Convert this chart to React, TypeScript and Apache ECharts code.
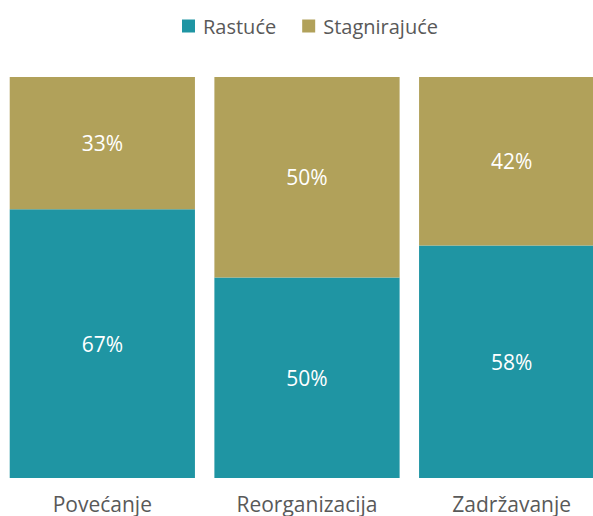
import React, { useEffect, useRef } from "react";
import * as echarts from "echarts";

const categories = ["Povećanje", "Reorganizacija", "Zadržavanje"];
const rastuce = [67, 50, 58];
const stagnirajuce = [33, 50, 42];
const seriesNames = ["Rastuće", "Stagnirajuće"];

export default function App() {
  const ref = useRef<HTMLDivElement>(null);
  useEffect(() => {
    document.body.style.margin = "0";
    const chart = echarts.init(ref.current!, null, { renderer: "svg" });
    const font = "'Open Sans', 'Noto Sans', sans-serif";
    chart.setOption({
      animation: false,
      textStyle: { fontFamily: font },
      legend: {
        top: 16,
        left: 182,
        padding: 0,
        itemWidth: 13,
        itemHeight: 13,
        itemGap: 26,
        icon: "rect",
        textStyle: { fontSize: 20, color: "#595959", fontFamily: font, padding: [0, 0, 0, 3] },
        data: seriesNames,
      },
      grid: { left: 0, right: 0, top: 77, bottom: 38, containLabel: false },
      xAxis: {
        type: "category",
        data: categories,
        axisLine: { show: false },
        axisTick: { show: false },
        axisLabel: { fontSize: 21, color: "#595959", margin: 15, fontFamily: font },
      },
      yAxis: { type: "value", min: 0, max: 100, show: false, splitLine: { show: false } },
      series: [
        {
          name: seriesNames[0],
          type: "bar",
          stack: "a",
          data: rastuce,
          barCategoryGap: "9.5%",
          itemStyle: { color: "#1F95A3" },
          label: { show: true, position: "inside", formatter: "{c}%", color: "#fff", fontSize: 21, fontFamily: font },
        },
        {
          name: seriesNames[1],
          type: "bar",
          stack: "a",
          data: stagnirajuce,
          barCategoryGap: "9.5%",
          itemStyle: { color: "#B1A15A" },
          label: { show: true, position: "inside", formatter: "{c}%", color: "#fff", fontSize: 21, fontFamily: font },
        },
      ],
    });
    return () => chart.dispose();
  }, []);
  return (
    <div style={{ width: 593, height: 516, overflow: "hidden", position: "relative" }}>
      <div ref={ref} style={{ width: 614, height: 516 }} />
    </div>
  );
}
